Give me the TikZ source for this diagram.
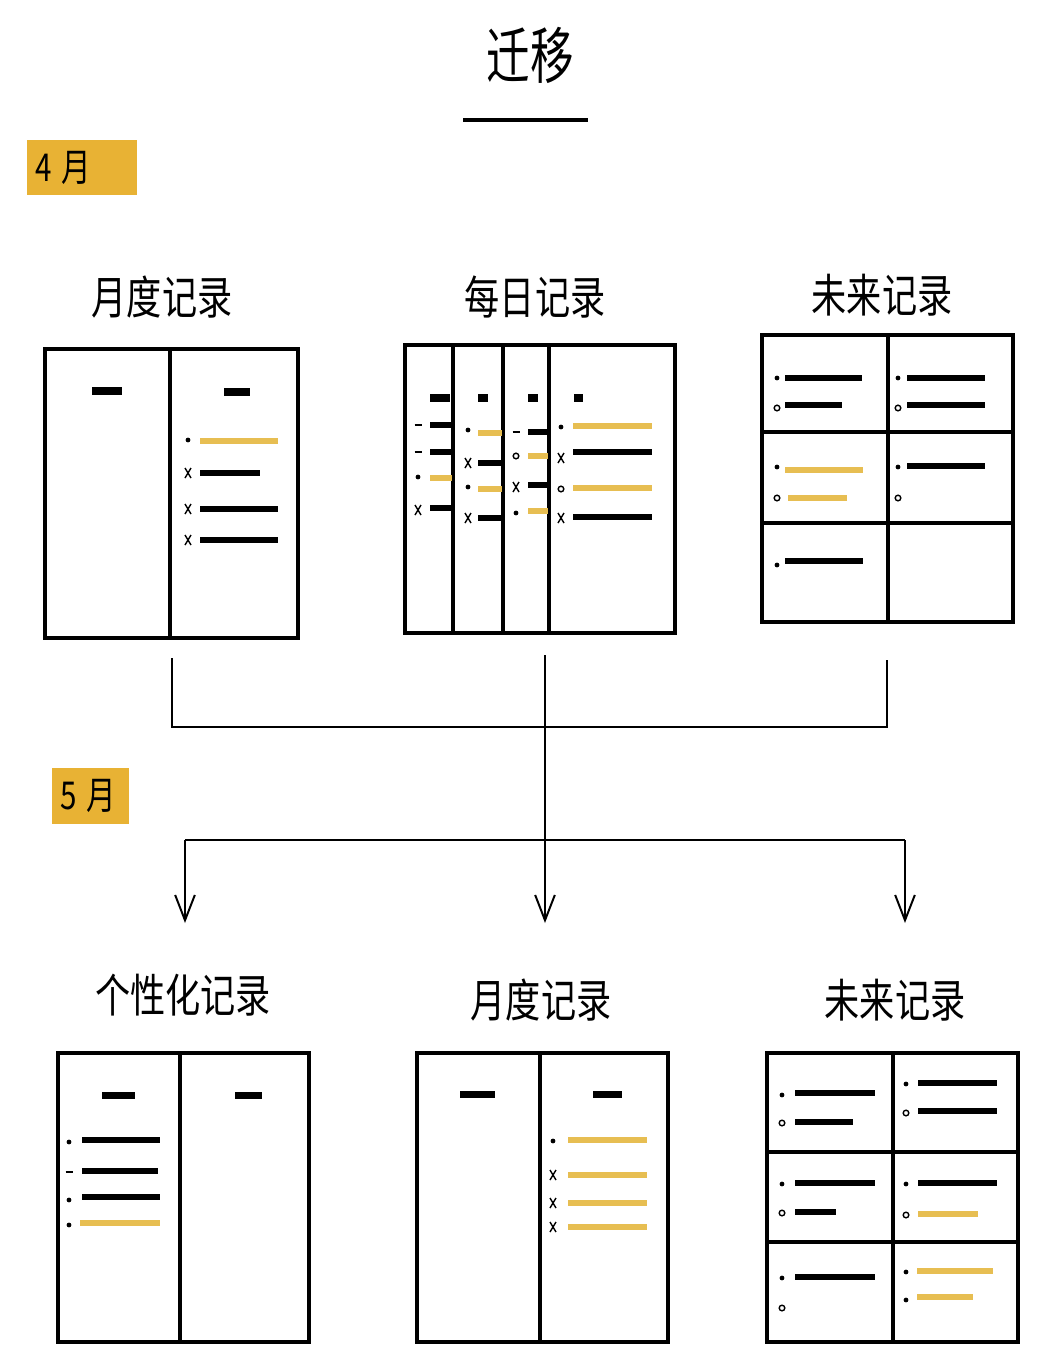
\documentclass[tikz,border=0pt]{standalone}
\usepackage{fontspec}
\usepackage{tikz}
\usepackage{xcolor}
\usetikzlibrary{positioning,arrows.meta}
\newfontfamily\cjk{Noto Sans CJK SC}
\definecolor{gold}{RGB}{232,178,52}
\definecolor{marker}{RGB}{231,190,82}

% bullet glyphs
\newcommand{\bdot}[1]{\fill #1 circle (1.7pt);}
\newcommand{\bcross}[1]{\draw[sym] #1 ++(-3,-5) -- ++(6,10) #1 ++(3,-5) -- ++(-6,10);}
\newcommand{\bring}[1]{\draw[sym] #1 circle (2pt);}
\newcommand{\bdash}[1]{\draw[sym] #1 ++(-3.5,0) -- ++(7,0);}
% tall hand-lettered look
\newcommand{\tall}[2]{\scalebox{1}[#1]{#2}}

\begin{document}
\begin{tikzpicture}[x=0.025cm, y=-0.025cm,
        page/.style={rectangle, draw=black, line width=2.6pt, inner sep=0pt, minimum height=7.225cm},
        rule/.style={line width=2.4pt},
        ink/.style={line width=3.8pt},
        hl/.style={line width=4.2pt, draw=marker},
        topdash/.style={line width=5pt},
        sym/.style={line width=1pt},
        heading/.style={font=\cjk\fontsize{25}{28}\selectfont},
        month/.style={fill=gold, anchor=north west, font=\cjk\fontsize{21}{24}\selectfont, align=left, inner xsep=0.2cm},
        link/.style={line width=1.4pt},
        flow/.style={line width=1.4pt, -{Straight Barb[length=18pt, width=14pt, line width=1.4pt]}}
    ]
        \useasboundingbox (0,0) rectangle (1052,1370);

        % Title
        \node[font=\cjk\fontsize{31}{36}\selectfont] (title) at (530,55) {\tall{1.4}{迁移}};
        \draw[line width=3pt] (463,120) -- (588,120);

        % April
        \node[month, text width=2.35cm, minimum height=1.375cm] (apr) at (27,140) {\tall{1.3}{4 月}};
        \node[heading] (amlabel) at (162,297) {\tall{1.3}{月度记录}};
        \node[heading] (adlabel) at (535,297) {\tall{1.3}{每日记录}};
        \node[heading] (aflabel) at (882,295) {\tall{1.3}{未来记录}};

        % Monthly log (April)
        \node[page, minimum width=6.325cm] (am) at (171.5,493.5) {};
        \draw[rule] (170,349) -- (170,638);
        \draw[topdash] (92,391) -- (122,391);
        \draw[topdash] (224,392) -- (250,392);
        \bdot{(188,440)} \draw[hl] (200,441) -- (278,441);
        \foreach \y/\e in {473/260, 509/278, 540/278} {
            \bcross{(188,\y)} \draw[ink] (200,\y) -- (\e,\y);
        }

        % Daily log (April)
        \node[page, minimum width=6.75cm, minimum height=7.2cm] (ad) at (540,489) {};
        \foreach \x in {453,503,549} \draw[rule] (\x,345) -- (\x,633);
        \draw[topdash] (430,398) -- (450,398);
        \draw[topdash] (478,398) -- (488,398);
        \draw[topdash] (528,398) -- (538,398);
        \draw[topdash] (574,398) -- (583,398);
        \bdash{(418,425)} \draw[ink] (430,425) -- (452,425);
        \bdash{(418,452)} \draw[ink] (430,452) -- (452,452);
        \bdot{(418,477)} \draw[hl] (430,478) -- (452,478);
        \bcross{(418,510)} \draw[ink] (430,508) -- (452,508);
        \bdot{(468,430)} \draw[hl] (478,433) -- (502,433);
        \bcross{(468,463)} \draw[ink] (478,463) -- (502,463);
        \bdot{(468,487)} \draw[hl] (478,489) -- (502,489);
        \bcross{(468,518)} \draw[ink] (478,518) -- (502,518);
        \bdash{(516,432)} \draw[ink] (528,432) -- (548,432);
        \bring{(516,456)} \draw[hl] (528,456) -- (548,456);
        \bcross{(516,487)} \draw[ink] (528,485) -- (548,485);
        \bdot{(516,513)} \draw[hl] (528,511) -- (548,511);
        \bdot{(561,427)} \draw[hl] (573,426) -- (652,426);
        \bcross{(561,458)} \draw[ink] (573,452) -- (652,452);
        \bring{(561,489)} \draw[hl] (573,488) -- (652,488);
        \bcross{(561,518)} \draw[ink] (573,517) -- (652,517);

        % Future log (April)
        \node[page, minimum width=6.275cm, minimum height=7.175cm] (af) at (887.5,478.5) {};
        \draw[rule] (888,335) -- (888,622);
        \draw[rule] (762,432) -- (1013,432);
        \draw[rule] (762,523) -- (1013,523);
        \bdot{(777,378)} \draw[ink] (785,378) -- (862,378);
        \bring{(777,408)} \draw[ink] (785,405) -- (842,405);
        \bdot{(898,378)} \draw[ink] (907,378) -- (985,378);
        \bring{(898,408)} \draw[ink] (907,405) -- (985,405);
        \bdot{(777,467)} \draw[hl] (785,470) -- (863,470);
        \bring{(777,498)} \draw[hl] (788,498) -- (847,498);
        \bdot{(898,467)} \draw[ink] (907,466) -- (985,466);
        \bring{(898,498)}
        \bdot{(777,565)} \draw[ink] (785,561) -- (863,561);

        % Migration
        \coordinate (amOut) at (172,658);
        \coordinate (adOut) at (545,655);
        \coordinate (afOut) at (887,660);
        \coordinate (joinL) at (172,727);
        \coordinate (joinR) at (887,727);
        \coordinate (splitL) at (185,840);
        \coordinate (splitR) at (905,840);
        \coordinate (bpIn) at (185,923);
        \coordinate (bmIn) at (545,923);
        \coordinate (bfIn) at (905,923);
        \draw[link] (amOut) -- (joinL) -- (joinR) -- (afOut);
        \draw[link, line width=2pt] (splitL) -- (splitR);
        \draw[flow] (adOut) -- (bmIn);
        \draw[flow] (splitL) -- (bpIn);
        \draw[flow] (splitR) -- (bfIn);

        % May
        \node[month, text width=1.525cm, minimum height=1.4cm] (may) at (52,768) {\tall{1.3}{5 月}};
        \node[heading] (bplabel) at (183,995) {\tall{1.3}{个性化记录}};
        \node[heading] (bmlabel) at (541,1000) {\tall{1.3}{月度记录}};
        \node[heading] (bflabel) at (895,1000) {\tall{1.3}{未来记录}};

        % Custom collection (May)
        \node[page, minimum width=6.275cm] (bp) at (183.5,1197.5) {};
        \draw[rule] (180,1053) -- (180,1342);
        \draw[topdash] (102,1095) -- (135,1095);
        \draw[topdash] (235,1095) -- (262,1095);
        \bdot{(69,1142)} \draw[ink] (82,1140) -- (160,1140);
        \bdash{(69,1172)} \draw[ink] (82,1171) -- (158,1171);
        \bdot{(69,1200)} \draw[ink] (82,1197) -- (160,1197);
        \bdot{(69,1225)} \draw[hl] (80,1223) -- (160,1223);

        % Monthly log (May)
        \node[page, minimum width=6.275cm] (bm) at (542.5,1197.5) {};
        \draw[rule] (540,1053) -- (540,1342);
        \draw[topdash] (460,1094) -- (495,1094);
        \draw[topdash] (593,1094) -- (622,1094);
        \bdot{(553,1141)} \draw[hl] (568,1140) -- (647,1140);
        \foreach \y in {1175,1203,1227} {
            \bcross{(553,\y)} \draw[hl] (568,\y) -- (647,\y);
        }

        % Future log (May)
        \node[page, minimum width=6.275cm] (bf) at (892.5,1197.5) {};
        \draw[rule] (893,1053) -- (893,1342);
        \draw[rule] (767,1152) -- (1018,1152);
        \draw[rule] (767,1242) -- (1018,1242);
        \bdot{(782,1095)} \draw[ink] (795,1093) -- (875,1093);
        \bring{(782,1123)} \draw[ink] (795,1122) -- (853,1122);
        \bdot{(906,1084)} \draw[ink] (918,1083) -- (997,1083);
        \bring{(906,1113)} \draw[ink] (918,1111) -- (997,1111);
        \bdot{(782,1184)} \draw[ink] (795,1183) -- (875,1183);
        \bring{(782,1213)} \draw[ink] (795,1212) -- (836,1212);
        \bdot{(906,1184)} \draw[ink] (918,1183) -- (997,1183);
        \bring{(906,1215)} \draw[hl] (918,1214) -- (978,1214);
        \bdot{(782,1278)} \draw[ink] (795,1277) -- (875,1277);
        \bring{(782,1308)}
        \bdot{(906,1272)} \draw[hl] (917,1271) -- (993,1271);
        \bdot{(906,1300)} \draw[hl] (917,1297) -- (973,1297);
    \end{tikzpicture}
\end{document}
